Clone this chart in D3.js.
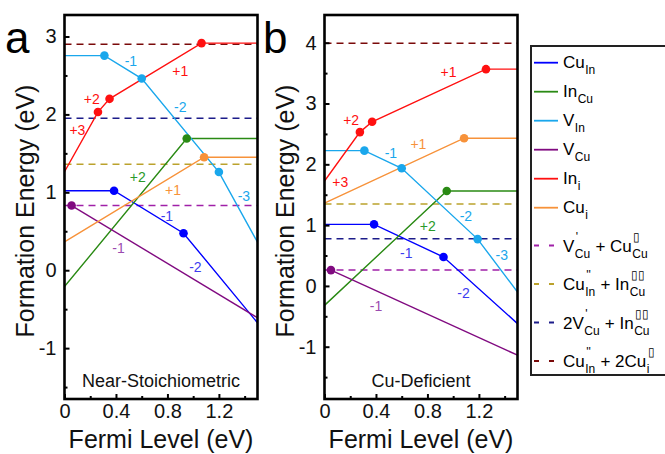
<!DOCTYPE html>
<html><head><meta charset="utf-8">
<script src="https://cdn.jsdelivr.net/npm/d3@7"></script>
<style>body{margin:0;background:#fff}svg{display:block}text{font-family:"Liberation Sans",Arial,sans-serif}</style>
</head><body><svg id="c" width="665" height="454"></svg>
<script>
// ---------- DATA ----------
const seriesNames = ["Cu_In","In_Cu","V_In","V_Cu","In_i","Cu_i"];
const seriesColors = ["#0000ff","#2a8a14","#1aa7ec","#800a80","#ff1010","#f7923a"];
const labelColors  = ["#3c3cf0","#2a9a2a","#1aa7ec","#9b4bb0","#ff1010","#f7923a"];
const dashNames = ["VCu+CuCu","CuIn+InCu","2VCu+InCu","CuIn+2Cui"];
const dashColors = ["#a020a8","#bba22c","#1c1c8a","#7a0a0a"];

// Panel a: Near-Stoichiometric  (Fermi level, formation energy) break points
const a_CuIn = [[0,1.02],[0.385,1.02],[0.925,0.475],[1.5,-0.675]];
const a_InCu = [[0,-0.21],[0.95,1.69],[1.5,1.69]];
const a_VIn  = [[0,2.755],[0.31,2.755],[0.6,2.46],[1.2,1.26],[1.5,0.36]];
const a_VCu  = [[0.055,0.83],[1.5,-0.61]];
const a_Ini  = [[0,1.265],[0.26,2.03],[0.35,2.2],[1.065,2.915],[1.5,2.915]];
const a_Cui  = [[0,0.365],[1.085,1.45],[1.5,1.45]];
const a_dash = [0.83,1.36,1.95,2.90];
// charge labels: [x, y, text, seriesIndex]
const a_labels = [[0.516,2.68,"-1",2],[0.9,2.56,"+1",4],[0.212,2.2,"+2",4],[0.1,1.8,"+3",4],
  [0.9,2.1,"-2",2],[0.57,1.2,"+2",1],[0.843,1.03,"+1",5],[1.394,0.95,"-3",2],
  [0.796,0.7,"-1",0],[0.42,0.28,"-1",3],[1.017,0.045,"-2",0]];

// Panel b: Cu-Deficient
const b_CuIn = [[0,1.013],[0.385,1.013],[0.925,0.475],[1.5,-0.62]];
const b_InCu = [[0,-0.32],[0.95,1.56],[1.5,1.56]];
const b_VIn  = [[0,2.225],[0.31,2.225],[0.6,1.935],[1.19,0.77],[1.5,-0.1]];
const b_VCu  = [[0.05,0.26],[1.5,-1.14]];
const b_Ini  = [[0,1.725],[0.275,2.53],[0.37,2.7],[1.255,3.565],[1.5,3.565]];
const b_Cui  = [[0,1.36],[1.085,2.43],[1.5,2.43]];
const b_dash = [0.262,1.347,0.776,3.99];
const b_labels = [[0.964,3.52,"+1",4],[0.207,2.73,"+2",4],[0.122,1.71,"+3",4],[0.516,2.19,"-1",2],
  [0.73,2.33,"+1",5],[1.099,1.15,"-2",2],[0.803,0.99,"+2",1],[1.378,0.5,"-3",2],
  [0.635,0.546,"-1",0],[1.08,-0.11,"-2",0],[0.40,-0.34,"-1",3]];

const xTicks = [0,0.4,0.8,1.2];
const xMinor = [0.2,0.6,1.0,1.4];
const a_yTicks = [-1,0,1,2,3];
const a_yMinor = [-1.5,-0.5,0.5,1.5,2.5];
const b_yTicks = [-1,0,1,2,3,4];
const b_yMinor = [-1.5,-0.5,0.5,1.5,2.5,3.5];

// legend text parts: [text, kind]; kind n=normal, b=subscript, bp=[sub,sup] stacked
const legendSolid = [
  [["Cu","n"],["In","b"]],
  [["In","n"],["Cu","b"]],
  [["V","n"],["In","b"]],
  [["V","n"],["Cu","b"]],
  [["In","n"],["i","b"]],
  [["Cu","n"],["i","b"]]
];
const legendDashed = [
  [["V","n"],[["Cu","'"],"bp"],[" + Cu","n"],[["Cu","\u25AF"],"bp"]],
  [["Cu","n"],[["In","''"],"bp"],[" + In","n"],[["Cu","\u25AF\u25AF"],"bp"]],
  [["2V","n"],[["Cu","'"],"bp"],[" + In","n"],[["Cu","\u25AF\u25AF"],"bp"]],
  [["Cu","n"],[["In","''"],"bp"],[" + 2Cu","n"],[["i","\u25AF"],"bp"]]
];

// ---------- DRAW ----------
const svg = d3.select("#c");
const fmt = d => String(d);

function panel(cfg){
  const x = d3.scaleLinear([0,1.5],[cfg.left,cfg.right]);
  const y = d3.scaleLinear(cfg.yDomain,[cfg.bottom,cfg.top]);
  const g = svg.append("g");
  const cid = "clip"+cfg.id;
  svg.append("clipPath").attr("id",cid).append("rect")
    .attr("x",cfg.left).attr("y",cfg.top).attr("width",cfg.right-cfg.left).attr("height",cfg.bottom-cfg.top);
  const plot = g.append("g").attr("clip-path",`url(#${cid})`);
  cfg.dash.forEach((v,i)=>{
    plot.append("line").attr("x1",x(0)).attr("x2",x(1.5)).attr("y1",y(v)).attr("y2",y(v))
      .attr("stroke",dashColors[i]).attr("stroke-width",1.5).attr("stroke-dasharray","7,5");
  });
  const line = d3.line().x(d=>x(d[0])).y(d=>y(d[1]));
  cfg.series.forEach((pts,i)=>{
    plot.append("path").datum(pts).attr("d",line).attr("fill","none")
      .attr("stroke",seriesColors[i]).attr("stroke-width",1.4);
  });
  cfg.series.forEach((pts,i)=>{
    plot.selectAll(null).data(pts.filter(p=>p[0]>0 && p[0]<1.5)).enter().append("circle")
      .attr("cx",d=>x(d[0])).attr("cy",d=>y(d[1])).attr("r",4.3).attr("fill",seriesColors[i]);
  });
  cfg.labels.forEach(l=>{
    g.append("text").attr("x",x(l[0])).attr("y",y(l[1])).attr("dy","0.35em")
      .attr("text-anchor","middle").attr("font-size",14).attr("fill",labelColors[l[3]]).text(l[2]);
  });
  const ax = g.append("g").attr("transform",`translate(0,${cfg.bottom})`)
    .call(d3.axisBottom(x).tickValues(xTicks).tickSize(-5).tickPadding(5).tickFormat(fmt));
  const axm = g.append("g").attr("transform",`translate(0,${cfg.bottom})`)
    .call(d3.axisBottom(x).tickValues(xMinor).tickSize(-3).tickFormat(""));
  const ay = g.append("g").attr("transform",`translate(${cfg.left},0)`)
    .call(d3.axisLeft(y).tickValues(cfg.yTicks).tickSize(-5).tickPadding(8).tickFormat(fmt));
  const aym = g.append("g").attr("transform",`translate(${cfg.left},0)`)
    .call(d3.axisLeft(y).tickValues(cfg.yMinor).tickSize(-3).tickFormat(""));
  [ax,axm,ay,aym].forEach(a=>{
    a.select(".domain").remove();
    a.selectAll("line").attr("stroke","#000").attr("stroke-width",2);
    a.selectAll("text").attr("font-size",20).attr("fill","#111").style("font-family",'"Liberation Sans",Arial,sans-serif');
  });
  g.append("rect").attr("x",cfg.left).attr("y",cfg.top).attr("width",cfg.right-cfg.left)
    .attr("height",cfg.bottom-cfg.top).attr("fill","none").attr("stroke","#000").attr("stroke-width",2.6);
  g.append("text").attr("x",(cfg.left+cfg.right)/2).attr("y",cfg.bottom-12).attr("text-anchor","middle")
    .attr("font-size",18).attr("fill","#111").text(cfg.caption);
  g.append("text").attr("x",(cfg.left+cfg.right)/2).attr("y",448).attr("text-anchor","middle")
    .attr("font-size",25).attr("fill","#111").text("Fermi Level (eV)");
  g.append("text").attr("transform",`translate(${cfg.left-31},211) rotate(-90)`).attr("text-anchor","middle")
    .attr("font-size",25).attr("fill","#111").text("Formation Energy (eV)");
  g.append("text").attr("x",cfg.letterX).attr("y",53).attr("font-size",44).attr("fill","#000").text(cfg.letter);
}

panel({id:"a",left:64.5,right:257.5,top:15,bottom:399,yDomain:[-1.653,3.276],
  series:[a_CuIn,a_InCu,a_VIn,a_VCu,a_Ini,a_Cui],dash:a_dash,labels:a_labels,
  yTicks:a_yTicks,yMinor:a_yMinor,caption:"Near-Stoichiometric",letter:"a",letterX:5});
panel({id:"b",left:324.5,right:517.5,top:15,bottom:399,yDomain:[-1.86,4.456],
  series:[b_CuIn,b_InCu,b_VIn,b_VCu,b_Ini,b_Cui],dash:b_dash,labels:b_labels,
  yTicks:b_yTicks,yMinor:b_yMinor,caption:"Cu-Deficient",letter:"b",letterX:263});

// legend
const lg = svg.append("g");
lg.append("rect").attr("x",531).attr("y",46).attr("width",160).attr("height",329)
  .attr("fill","#fff").attr("stroke","#222").attr("stroke-width",2);
function rich(x0,yb,parts){
  let x = x0;
  parts.forEach(p=>{
    if(p[1]==="n"){
      const t = lg.append("text").attr("x",x).attr("y",yb).attr("font-size",17).attr("fill","#000").attr("xml:space","preserve").text(p[0]);
      x += t.node().getComputedTextLength();
    } else if(p[1]==="b"){
      const t = lg.append("text").attr("x",x+0.5).attr("y",yb+6).attr("font-size",12).attr("fill","#000").text(p[0]);
      x += t.node().getComputedTextLength()+0.5;
    } else {
      const t1 = lg.append("text").attr("x",x+0.5).attr("y",yb+6).attr("font-size",12).attr("fill","#000").text(p[0][0]);
      const t2 = lg.append("text").attr("x",x+1.5).attr("y",yb-11).attr("font-size",12).attr("fill","#000").text(p[0][1]);
      x += Math.max(t1.node().getComputedTextLength(),t2.node().getComputedTextLength())+1;
    }
  });
}
legendSolid.forEach((parts,i)=>{
  const yy = 62.7 + i*29;
  lg.append("line").attr("x1",534).attr("x2",558).attr("y1",yy).attr("y2",yy)
    .attr("stroke",seriesColors[i]).attr("stroke-width",1.8);
  rich(563,yy+5,parts);
});
legendDashed.forEach((parts,i)=>{
  const yy = 245.5 + i*38.5;
  lg.append("line").attr("x1",534).attr("x2",558).attr("y1",yy).attr("y2",yy)
    .attr("stroke",dashColors[i]).attr("stroke-width",1.8).attr("stroke-dasharray","5,10");
  rich(563,yy+6,parts);
});
</script></body></html>
